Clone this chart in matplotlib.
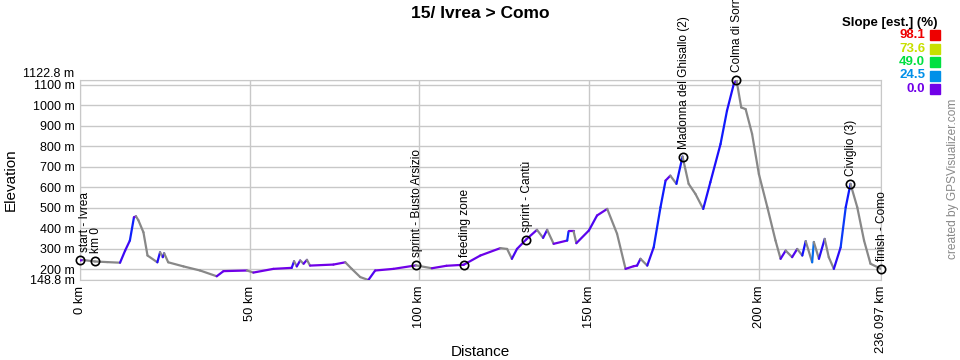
#!/usr/bin/env python3
# -*- coding: utf-8 -*-

import numpy as np
import matplotlib
matplotlib.use("Agg")
import matplotlib.pyplot as plt
from matplotlib.collections import LineCollection
from matplotlib.colors import LinearSegmentedColormap
from matplotlib.patches import Rectangle

plt.rcParams["font.family"] = ["Liberation Sans", "DejaVu Sans"]

# elevation profile (km, m)
dist = [0, 1.0, 4.4, 8.0, 11.8, 13.3, 14.7, 15.9, 16.5, 17.2, 18.7, 19.9,
        22.8, 23.6, 24.4, 24.8, 26.0, 30.5, 35.4, 40.3, 42.3, 49.2, 51.1,
        57.0, 62.4, 63.1, 63.9, 64.9, 65.9, 66.9, 67.8, 74.7, 78.2, 80.1,
        82.6, 85.0, 87.0, 92.4, 99.0, 103.7, 108.0, 113.1, 118.0, 123.9,
        125.9, 127.3, 128.8, 131.5, 134.7, 136.5, 137.7, 139.6, 143.6, 144.0,
        145.5, 146.3, 150.0, 152.4, 155.4, 158.3, 160.8, 163.2, 164.2, 165.2,
        167.2, 169.1, 171.1, 172.6, 174.0, 175.8, 177.6, 179.4, 181.4, 183.7,
        185.8, 188.8, 190.7, 192.7, 193.5, 194.9, 196.2, 198.1, 200.1, 202.6,
        205.0, 206.5, 208.0, 209.9, 211.4, 212.9, 213.9, 215.8, 216.3, 217.8,
        219.5, 220.7, 222.2, 224.2, 225.7, 227.1, 229.1, 231.1, 233.0, 236.097]
elev = [244, 246, 239, 236, 233, 292, 341, 454, 459, 440, 381, 268,
        235, 284, 260, 279, 235, 215, 195, 167, 192, 195, 185,
        203, 208, 240, 215, 244, 228, 247, 219, 224, 235, 203,
        163, 148.8, 195, 203, 220, 206, 218, 223, 268, 304,
        300, 252, 300, 346, 393, 354, 393, 325, 341, 385,
        385, 328, 390, 463, 495, 374, 203, 216, 219, 252,
        219, 308, 503, 633, 657, 617, 750, 617, 568, 495,
        625, 811, 973, 1103, 1122.8, 989, 981, 860, 665, 503,
        341, 252, 292, 260, 300, 268, 338, 235, 334, 252,
        349, 260, 203, 308, 503, 617, 503, 341, 228, 203]

# waypoints
wp_km = [0, 4.4, 99.0, 113.1, 131.5, 177.6, 193.5, 227.1, 236.097]
wp_names = ["start - Ivrea", "km 0", "sprint - Busto Arsizio", "feeding zone",
            "sprint - Cantù", "Madonna del Ghisallo (2)", "Colma di Sormano",
            "Civiglio (3)", "finish - Como"]

# slope legend
slope_vals = [98.1, 73.6, 49.0, 24.5, 0.0]
slope_cols = ["#ee0000", "#c8e000", "#00e040", "#0090e8", "#7000e8"]

xticks = [0, 50, 100, 150, 200, 236.097]
xticklabels = ["0 km", "50 km", "100 km", "150 km", "200 km", "236.097 km"]
yticks = [148.8, 200, 300, 400, 500, 600, 700, 800, 900, 1000, 1100, 1122.8]
yticklabels = ["%g m" % v for v in yticks]

dist = np.asarray(dist)
elev = np.asarray(elev, dtype=float)

fig = plt.figure(figsize=(9.6, 3.6), dpi=100)
ax = fig.add_axes([80/960, 1-280/360, 801/960, 200/360])

cmap = LinearSegmentedColormap.from_list(
    "slope", [(0, "#7000e8"), (7/98.1, "#1010ff"), (24.5/98.1, "#0090e8"),
              (49/98.1, "#00e040"), (73.6/98.1, "#c8e000"), (1, "#ee0000")])

pts = np.column_stack([dist, elev])
segs = np.stack([pts[:-1], pts[1:]], axis=1)
slope = np.diff(elev) / (np.diff(dist) * 1000) * 100
cols = [cmap(s / 98.1) if s >= 0 else "#888888" for s in slope]
ax.add_collection(LineCollection(segs, colors=cols, linewidths=1.6,
                                 capstyle="round", zorder=3))

wp_el = np.interp(wp_km, dist, elev)
ax.plot(wp_km, wp_el, "o", ms=6, mfc="none", mec="black", mew=1.2,
        zorder=4, clip_on=False)
for i, (k, e, name) in enumerate(zip(wp_km, wp_el, wp_names)):
    dx = 5 if i == 0 else 1
    ax.annotate(name, (k, e), xytext=(dx, 8), textcoords="offset pixels",
                rotation=90, ha="center", va="bottom", fontsize=8.6,
                annotation_clip=False)

ax.set_xlim(0, 236.097)
ax.set_ylim(148.8, 1122.8)
ax.set_xticks(xticks)
ax.set_xticklabels(xticklabels, rotation=90, fontsize=9.3, va="top")
ax.set_yticks(yticks)
ax.set_yticklabels(yticklabels, fontsize=9)
ax.get_yticklabels()[-1].set_va("bottom")
ax.tick_params(length=0, pad=4)
ax.grid(True, color="#c8c8c8", lw=1)
ax.set_axisbelow(True)
for sp in ax.spines.values():
    sp.set_color("#c8c8c8")

ax.set_ylabel("Elevation", fontsize=11)
ax.yaxis.set_label_coords(-0.0774, 0.5)
ax.set_xlabel("Distance", fontsize=11)
ax.xaxis.set_label_coords(0.4994, -0.325)

fig.text(0.5, 1-13/360, "15/ Ivrea > Como", ha="center", va="center",
         fontsize=12.5, fontweight="bold")

# slope legend
fig.text(937/960, 1-23/360, "Slope [est.] (%)", ha="right", va="center",
         fontsize=9.5, fontweight="bold")
for j, (v, c) in enumerate(zip(slope_vals, slope_cols)):
    yc = 35 + j*13.5
    fig.text(925/960, 1-yc/360, "%.1f" % v, ha="right", va="center",
             fontsize=9.5, fontweight="bold", color=c)
    fig.patches.append(Rectangle((930/960, 1-(yc+5)/360), 10/960, 10/360,
                                 transform=fig.transFigure, color=c))

fig.text(953/960, 1-179/360, "created by GPSVisualizer.com", rotation=90,
         ha="center", va="center", fontsize=8.6, color="#888888")

fig.savefig("out.png", dpi=100)
